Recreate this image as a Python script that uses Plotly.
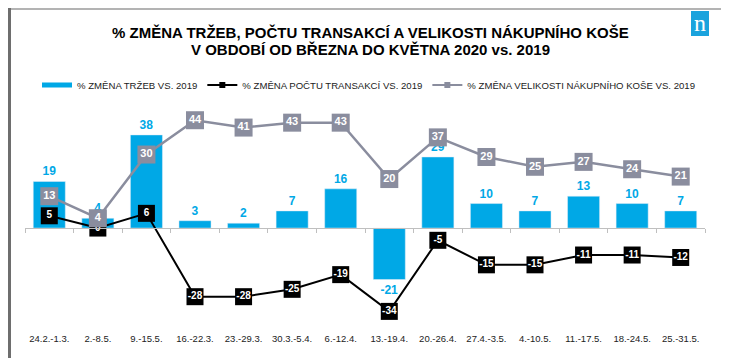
import plotly.graph_objects as go

# ---- data ----
categories = ["24.2.-1.3.", "2.-8.5.", "9.-15.5.", "16.-22.3.", "23.-29.3.", "30.3.-5.4.",
              "6.-12.4.", "13.-19.4.", "20.-26.4.", "27.4.-3.5.", "4.-10.5.", "11.-17.5.",
              "18.-24.5.", "25.-31.5."]
sales_change = [19, 4, 38, 3, 2, 7, 16, -21, 29, 10, 7, 13, 10, 7]
transactions_change = [5, 0, 6, -28, -28, -25, -19, -34, -5, -15, -15, -11, -11, -12]
basket_change = [13, 4, 30, 44, 41, 43, 43, 20, 37, 29, 25, 27, 24, 21]

name_sales = "% ZMĚNA TRŽEB VS. 2019"
name_trans = "% ZMĚNA POČTU TRANSAKCÍ VS. 2019"
name_basket = "% ZMĚNA VELIKOSTI NÁKUPNÍHO KOŠE VS. 2019"
title1 = "% ZMĚNA TRŽEB, POČTU TRANSAKCÍ A VELIKOSTI NÁKUPNÍHO KOŠE"
title2 = "V OBDOBÍ OD BŘEZNA DO KVĚTNA 2020 vs. 2019"

# ---- style ----
W, H = 729, 358
L, R, T, B = 17, 32, 98, 35
PW, PH = W - L - R, H - T - B
BLUE = "#00A8E6"
GRAY = "#8A8D9E"
SANS = "Liberation Sans, Arial, sans-serif"

def fx(px):
    return (px - L) / PW

def fy(py):
    return (H - B - py) / PH

n = len(categories)
fig = go.Figure()

fig.add_trace(go.Bar(
    x=categories, y=sales_change, name=name_sales, marker_color=BLUE, width=0.66,
    text=[str(v) for v in sales_change], textposition="outside", cliponaxis=False,
    textfont=dict(color=BLUE, size=12, family=SANS, weight="bold"),
    showlegend=False,
))
fig.add_trace(go.Scatter(
    x=categories, y=transactions_change, name=name_trans, mode="lines+markers+text",
    line=dict(color="black", width=2), marker=dict(symbol="square", size=17, color="black"),
    text=[str(v) for v in transactions_change], textposition="middle center",
    textfont=dict(color="white", size=10, family=SANS, weight="bold"),
    cliponaxis=False, showlegend=False,
))
fig.add_trace(go.Scatter(
    x=categories, y=basket_change, name=name_basket, mode="lines+markers+text",
    line=dict(color=GRAY, width=2.5), marker=dict(symbol="square", size=18, color=GRAY),
    text=[str(v) for v in basket_change], textposition="middle center",
    textfont=dict(color="white", size=11, family=SANS, weight="bold"),
    cliponaxis=False, showlegend=False,
))

# legend entries
fig.add_trace(go.Scatter(x=[None], y=[None], xaxis="x2", mode="lines", name=name_sales,
                         line=dict(color=BLUE, width=5)))
fig.add_trace(go.Scatter(x=[None], y=[None], xaxis="x2", mode="lines+markers", name=name_trans,
                         line=dict(color="black", width=2), marker=dict(symbol="square", size=6, color="black")))
fig.add_trace(go.Scatter(x=[None], y=[None], xaxis="x2", mode="lines+markers", name=name_basket,
                         line=dict(color=GRAY, width=2), marker=dict(symbol="square", size=6, color=GRAY)))

ymin, ymax = -42.0, 49.8
fig.update_layout(
    width=W, height=H, margin=dict(l=L, r=R, t=T, b=B, autoexpand=False),
    paper_bgcolor="white", plot_bgcolor="white",
    xaxis=dict(type="category", range=[-0.5, n - 0.5], showgrid=False, showline=False,
               ticks="", tickfont=dict(size=9.5, family=SANS, color="#222"), fixedrange=True),
    xaxis2=dict(overlaying="x", anchor="free", position=(0 - ymin) / (ymax - ymin),
                range=[-0.5, n - 0.5], showgrid=False, showline=True, linecolor="#BFBFBF", linewidth=1,
                ticks="outside", ticklen=4, tickcolor="#BFBFBF",
                tickvals=[i - 0.5 for i in range(n + 1)], showticklabels=False),
    yaxis=dict(range=[ymin, ymax], visible=False, showgrid=False, zeroline=False),
    legend=dict(orientation="h", xref="container", yref="container", x=361 / W, xanchor="center",
                y=(H - 77) / H, yanchor="middle",
                font=dict(size=9.6, family=SANS, color="#222"), bgcolor="rgba(0,0,0,0)",
                itemwidth=30, traceorder="normal"),
    annotations=[
        dict(text=title1, xref="paper", yref="paper", x=fx(362), y=fy(24), showarrow=False,
             xanchor="center", yanchor="middle",
             font=dict(size=15, family=SANS, color="black", weight="bold")),
        dict(text=title2, xref="paper", yref="paper", x=fx(362), y=fy(42), showarrow=False,
             xanchor="center", yanchor="middle",
             font=dict(size=15, family=SANS, color="black", weight="bold")),
        dict(text="n", xref="paper", yref="paper", x=fx(692), y=fy(15), showarrow=False,
             xanchor="center", yanchor="middle",
             font=dict(size=24, family="Liberation Serif, DejaVu Serif, serif", color="white")),
    ],
    shapes=[
        dict(type="rect", xref="paper", yref="paper", x0=fx(683), x1=fx(701), y0=fy(3), y1=fy(28),
             fillcolor="#1AA3DD", line=dict(width=0), layer="above"),
        dict(type="rect", xref="paper", yref="paper", x0=fx(1), x1=fx(724.5), y0=fy(1), y1=fy(353.5),
             line=dict(color="#9A9A9A", width=1.5), fillcolor="rgba(0,0,0,0)"),
        dict(type="line", xref="paper", yref="paper", x0=fx(1.5), x1=fx(1.5), y0=fy(0), y1=fy(355),
             line=dict(color="#6E6E6E", width=3)),
        dict(type="line", xref="paper", yref="paper", x0=fx(0), x1=fx(726), y0=fy(353.8), y1=fy(353.8),
             line=dict(color="#6E6E6E", width=2.5)),
    ],
)

fig.write_html("out.html")
